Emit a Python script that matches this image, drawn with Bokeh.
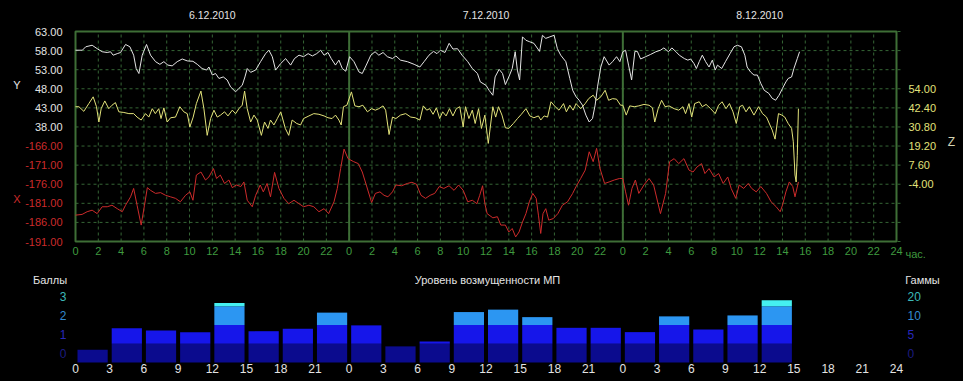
import numpy as np
from bokeh.plotting import figure
from bokeh.models import Range1d, LinearAxis, FixedTicker, PrintfTickFormatter
from bokeh.core.properties import value
from bokeh.embed import file_html
from bokeh.resources import INLINE

# ---------------- data ----------------
day_names = ["6.12.2010", "7.12.2010", "8.12.2010"]
day_centers = [12, 36, 60]
day_bounds = [24, 48]
hour_ticks = list(range(0, 73, 2))
kp_hour_ticks = list(range(0, 73, 3))
y_ticks = [38.0, 43.0, 48.0, 53.0, 58.0, 63.0]
x_ticks = [-191.0, -186.0, -181.0, -176.0, -171.0, -166.0]
z_ticks = [-4.0, 7.6, 19.2, 30.8, 42.4, 54.0]

y_time = [0, 0.6, 0.9, 1.46, 1.9, 2.34, 2.78, 3.07, 3.3, 3.66, 3.95, 4.39, 4.77, 5.1, 5.32, 5.56, 5.85,
          6.23, 6.58, 7.02, 7.4, 7.75, 8.1, 8.48, 8.92, 9.36, 9.8, 10.3, 10.68, 11.1, 11.5, 11.7, 12.0,
          12.28, 12.58, 12.96, 13.3, 13.6, 14.04, 14.33, 14.62, 14.86, 15.06, 15.36, 15.8, 16.23, 16.67,
          16.96, 17.26, 17.55, 17.99, 18.43, 18.87, 19.2, 19.6, 20.0, 20.4, 20.77, 21.15, 21.5, 21.8,
          22.14, 22.43, 22.8, 23.1, 23.4, 23.7,
          24.04, 24.42, 24.86, 25.15, 25.5, 25.9, 26.27, 26.6, 26.97, 27.35, 27.8, 28.1, 28.5, 29.1,
          29.7, 30.2, 30.57, 31.0, 31.4, 31.7, 32.0, 32.4, 32.77, 33.1, 33.5, 33.9, 34.4, 34.8, 35.25,
          35.5, 36.0, 36.27, 36.6, 36.8, 37.15, 37.45, 37.7, 38.0, 38.3, 38.56, 38.75, 38.95, 39.2,
          39.5, 39.84, 40.2, 40.7, 40.95, 41.24, 41.6, 41.97, 42.26, 42.55, 43.0, 43.35, 43.6, 43.9,
          44.17, 44.46, 44.76, 45.05, 45.34, 45.57, 45.78, 46.07, 46.36, 46.8, 47.1, 47.45, 47.74,
          48.0, 48.24, 48.5, 48.77, 49.06, 49.27, 49.56, 50.0, 50.44, 50.9, 51.3, 51.6, 52.0, 52.3,
          52.66, 52.95, 53.4, 53.7, 53.95, 54.24, 54.45, 54.7, 54.97, 55.26, 55.56, 55.85, 56.1, 56.3,
          56.67, 57.0, 57.4, 57.75, 58.04, 58.4, 58.7, 58.9, 59.2, 59.5, 59.8, 60.1, 60.4, 60.8, 61.1,
          61.4, 61.7, 62.0, 62.3, 62.5, 62.8, 63.0, 63.3, 63.5]
y_vals = [58.1, 58.1, 59.0, 59.4, 58.5, 57.7, 57.5, 57.7, 56.8, 57.2, 57.5, 59.6, 59.0, 56.8, 53.3, 52.0, 56.8,
          59.6, 56.8, 55.1, 54.4, 55.1, 54.2, 54.0, 55.1, 55.8, 55.3, 55.2, 54.4, 53.3, 52.9, 53.7, 51.6,
          52.0, 50.7, 51.1, 50.3, 48.5, 47.2, 48.1, 48.9, 51.1, 53.3, 52.3, 52.9, 55.1, 57.2,
          58.1, 56.4, 52.9, 54.6, 55.9, 54.2, 55.9, 56.8, 56.4, 57.2, 56.6, 57.2, 58.1, 56.8,
          57.5, 55.9, 54.2, 55.5, 53.3, 52.6,
          56.4, 55.1, 52.4, 52.0, 54.2, 56.8, 57.7, 56.8, 57.5, 56.4, 55.9, 56.6, 55.5, 55.1,
          54.4, 53.7, 55.1, 56.8, 57.8, 57.2, 58.1, 57.5, 59.9, 58.4, 58.5, 56.8, 55.1, 53.3, 52.0,
          49.8, 48.9, 47.6, 46.3, 51.1, 53.1, 52.0, 49.1, 51.1, 53.3, 57.7, 52.9, 50.3, 61.6,
          60.7, 60.3, 59.9, 57.8, 62.0, 61.2, 61.6, 62.0, 58.5, 56.8, 55.1, 50.7, 47.6, 45.9,
          45.0, 43.7, 41.1, 39.3, 40.2, 43.7, 48.5, 53.7, 56.4, 54.2, 55.1, 56.4, 55.1,
          57.7, 58.1, 54.2, 50.3, 57.8, 57.8, 55.8, 56.4, 57.0, 57.7, 58.1, 58.7, 57.7, 58.7,
          57.7, 56.8, 55.9, 55.5, 55.8, 54.6, 53.3, 55.1, 56.8, 55.1, 53.7, 55.5, 52.9, 54.2,
          53.3, 55.1, 57.2, 59.0, 59.4, 59.0, 56.8, 53.7, 52.4, 51.6, 51.6, 49.4, 47.6, 46.8, 45.5,
          45.0, 46.3, 48.1, 49.8, 50.7, 51.1, 53.3, 55.9, 57.7]

z_time = [0, 0.3, 0.73, 1.17, 1.55, 1.84, 2.05, 2.25, 2.57, 2.92, 3.2, 3.5, 3.8, 4.24, 4.68, 5.1, 5.4,
          5.76, 6.14, 6.43, 6.73, 7.0, 7.3, 7.5, 7.75, 8.04, 8.34, 8.77, 9.15, 9.5, 9.8, 10.03, 10.32,
          10.6, 11.0, 11.26, 11.55, 11.85, 12.14, 12.43, 12.72, 13.07, 13.37, 13.75, 14.04, 14.33,
          14.62, 14.83, 15.06, 15.36, 15.65, 15.94, 16.3, 16.58, 16.88, 17.1, 17.4, 17.7, 18.0, 18.4,
          18.7, 19.0, 19.4, 19.74, 20.0, 20.47, 20.9, 21.35, 21.8, 22.14, 22.5, 22.8, 23.1, 23.3, 23.5,
          23.8,
          24.2, 24.5, 24.86, 25.2, 25.6, 25.97, 26.3, 26.6, 26.97, 27.2, 27.5, 27.8, 28.1, 28.5, 28.96,
          29.4, 29.8, 30.2, 30.5, 30.8, 31.06, 31.36, 31.65, 31.94, 32.2, 32.5, 32.8, 33.1, 33.4, 33.7,
          34.0, 34.2, 34.5, 34.8, 35.05, 35.35, 35.6, 35.9, 36.2, 36.4, 36.6, 36.85, 37.1, 37.4, 37.7,
          38.0, 38.4, 38.76, 39.1, 39.5, 39.85, 40.2, 40.6, 40.8, 41.1, 41.4, 41.7, 42.07, 42.4, 42.8,
          43.05, 43.35, 43.64, 43.9, 44.3, 44.7, 45.0, 45.4, 45.7, 46.07, 46.45, 46.75, 47.1, 47.45,
          47.8,
          48.0, 48.3, 48.6, 49.0, 49.4, 49.85, 50.3, 50.6, 50.8, 51.1, 51.4, 51.7, 52.05, 52.5, 52.9,
          53.27, 53.5, 53.8, 54.04, 54.3, 54.7, 54.97, 55.3, 55.7, 56.1, 56.4, 56.7, 57.05, 57.35,
          57.66, 57.95, 58.25, 58.5, 58.8, 59.1, 59.5, 59.9, 60.25, 60.6, 60.9, 61.1, 61.35, 61.65,
          61.94, 62.2, 62.5, 62.8, 62.95, 63.1, 63.2, 63.3, 63.4]
z_vals = [43.1, 43.1, 40.3, 45.0, 49.1, 43.1, 33.8, 41.9, 46.6, 41.9, 44.0, 45.6, 40.0, 39.6, 38.9, 38.9, 36.8,
          35.0, 38.9, 36.8, 41.9, 38.9, 41.9, 35.9, 42.4, 33.8, 36.4, 36.8, 43.1, 40.0, 38.9, 30.8, 36.8,
          45.0, 52.6, 41.9, 25.7, 35.9, 41.0, 36.8, 38.0, 40.0, 37.5, 41.0, 38.9, 41.9,
          44.0, 52.6, 41.9, 33.8, 38.0, 35.0, 25.7, 33.8, 29.9, 35.0, 32.0, 35.9, 40.0, 29.9,
          25.7, 35.0, 32.9, 32.0, 35.9, 37.5, 38.9, 38.5, 37.5, 36.4, 35.9, 38.0, 35.0, 32.0, 43.1,
          44.0,
          52.1, 43.6, 43.1, 44.0, 40.0, 41.9, 41.0, 41.9, 43.6, 41.0, 26.2, 36.8, 35.9, 38.0, 38.9,
          36.8, 36.4, 35.0, 43.6, 41.0, 41.9, 38.5, 42.4, 35.9, 40.0, 37.5, 41.9, 37.5, 41.9, 43.1,
          30.8, 43.1, 35.9, 41.0, 32.9, 41.9, 29.9, 38.0, 20.8, 32.0, 43.1, 36.8, 43.1, 38.0, 30.3,
          29.9, 32.9, 35.9, 38.5, 41.9, 37.5, 36.4, 37.5, 35.0, 37.5, 36.8, 46.1, 43.1, 41.0, 45.0,
          40.0, 44.0, 41.0, 45.0, 41.9, 45.0, 48.0, 50.1, 47.0, 49.1, 53.1, 47.0, 48.0, 47.7,
          44.0,
          44.0, 38.0, 43.6, 43.1, 43.6, 44.5, 44.0, 42.4, 33.8, 41.9, 47.0, 43.1, 43.6, 41.9, 41.0,
          43.1, 38.9, 45.0, 36.8, 45.0, 46.1, 43.1, 44.5, 41.9, 38.9, 44.0, 46.1, 41.9, 45.0,
          40.0, 32.9, 43.1, 44.0, 40.0, 43.1, 38.0, 43.1, 38.9, 36.8, 32.0, 28.9, 23.4, 38.9,
          38.0, 36.8, 32.9, 29.9, 21.8, 1.6, -2.6, 13.6, 41.9]

x_time = [0, 0.58, 1.02, 1.46, 1.9, 2.34, 2.78, 3.2, 3.66, 4.1, 4.39, 4.83, 5.1, 5.4, 5.76, 6.05, 6.3,
          6.58, 7.02, 7.46, 7.9, 8.33, 8.77, 9.2, 9.65, 10.03, 10.3, 10.6, 11.0, 11.4, 11.7, 12.1,
          12.37, 12.7, 13.07, 13.45, 13.75, 14.1, 14.5, 14.77, 15.06, 15.5, 15.8, 16.2, 16.47, 16.8,
          17.1, 17.46, 17.84, 18.28, 18.7, 19.16, 19.6, 20.0, 20.47, 20.9, 21.35, 21.8, 22.2, 22.67,
          22.96, 23.25, 23.55, 23.9,
          24.4, 24.8, 25.15, 25.5, 25.97, 26.3, 26.7, 27.06, 27.4, 27.8, 28.1, 28.6, 29.1, 29.5, 29.9,
          30.3, 30.7, 31.1, 31.5, 31.9, 32.3, 32.76, 33.2, 33.6, 34.0, 34.4, 34.8, 35.2, 35.45, 35.7,
          35.9, 36.1, 36.6, 37.0, 37.3, 37.7, 38.0, 38.3, 38.6, 38.9, 39.2, 39.5, 39.8, 40.1, 40.4,
          40.6, 40.8, 41.0, 41.24, 41.5, 41.9, 42.3, 42.7, 43.15, 43.6, 43.9, 44.3, 44.7, 45.05, 45.4,
          45.7, 46.0, 46.4, 46.8, 47.25, 47.7, 48.0,
          48.24, 48.5, 48.8, 49.1, 49.4, 49.85, 50.3, 50.7, 51.3, 51.75, 52.1, 52.5, 52.9, 53.36,
          53.8, 54.16, 54.5, 54.9, 55.2, 55.56, 56.0, 56.4, 56.8, 57.2, 57.5, 57.9, 58.2, 58.6, 59.0,
          59.3, 59.7, 60.1, 60.6, 61.0, 61.45, 61.8, 62.0, 62.3, 62.6, 62.9, 63.1, 63.4]
x_vals = [-184.1, -183.9, -183.2, -182.8, -183.7, -181.9, -181.9, -181.5, -182.4, -183.2, -181.5, -179.3,
          -177.1, -181.5, -186.7, -181.5, -176.9, -177.6, -178.4, -178.2, -178.9, -179.3, -179.7,
          -180.6, -178.9, -178.0, -180.2, -173.6, -172.8, -174.9, -174.1, -171.9, -174.5, -173.6,
          -175.8, -174.9, -176.9, -176.2, -176.6, -175.4, -180.2, -181.9, -178.9, -176.2, -178.0,
          -175.8, -179.3, -172.9, -177.1, -179.7, -181.1, -180.2, -181.1, -181.9, -181.5, -181.9,
          -183.2, -182.4, -183.7, -180.6, -177.1, -171.9, -166.8, -169.3,
          -170.1, -170.6, -172.8, -176.2, -180.8, -178.4, -178.0, -178.9, -179.3, -178.0, -176.2,
          -176.4, -175.8, -175.5, -176.0, -178.9, -179.7, -178.9, -178.4, -176.6, -177.1, -176.4,
          -177.6, -176.2, -177.6, -180.6, -180.2, -181.1, -178.9, -176.4, -181.1, -183.7, -184.8,
          -184.5, -186.7, -186.7, -188.5, -187.6, -189.8, -188.5, -185.9, -183.7, -180.6, -178.4,
          -179.7, -184.1, -188.9, -183.7, -182.4, -185.4, -185.0, -183.7, -181.5, -180.6, -178.4,
          -176.6, -174.5, -172.3, -167.5, -170.1, -166.6, -171.9, -175.8, -175.4, -174.9, -174.5,
          -174.5,
          -178.0, -181.5, -177.1, -174.9, -178.4, -176.2, -174.5, -176.2, -183.7, -178.4, -170.1,
          -169.3, -170.6, -169.3, -172.3, -172.8, -171.5, -170.6, -173.2, -171.9, -174.1, -173.2,
          -175.8, -174.1, -177.1, -179.7, -176.2, -177.1, -175.8, -177.1, -178.0, -176.6, -178.4,
          -180.6, -181.9, -183.2, -181.5, -178.0, -175.4, -176.6, -179.3, -175.4]

# disturbance level per 3-hour interval (0..4 bands)
kp_start = list(range(0, 61, 3))
kp_level = [0.68, 1.83, 1.71, 1.62, 3.18, 1.67, 1.80, 2.66,
            1.98, 0.86, 1.12, 2.69, 2.82, 2.42, 1.85, 1.85,
            1.62, 2.46, 1.76, 2.51, 3.32]
band_left_names = ["0", "1", "2", "3"]
band_right_names = ["0", "5", "10", "20"]

# ---------------- style / layout ----------------
FONT = "Liberation Sans"
FRAME = "#3e6e36"
GRID = "#356535"
WHITE = "#e4e4e4"
YELLOW = "#e2e27a"
RED = "#cc2b2b"
GREEN_TXT = "#3f9a3f"
band_colors = ["#0b0b8e", "#1616ea", "#2c96f2", "#45f0f0"]
band_text = ["#1c1c80", "#2828bc", "#3489cf", "#3cb9b9"]

W, H = 963, 381
FX0, FX1 = 75, 896          # chart frame, px
FT, FB = 31, 241            # top chart frame, px
LB, BAND_PX = 362, 18.75    # bottom chart baseline, px per level

S = (FX1 - FX0) / 72.0
ystep = y_ticks[1] - y_ticks[0]
zstep = z_ticks[1] - z_ticks[0]
y_lo, y_hi = y_ticks[0] - 6 * ystep, y_ticks[-1]
ppu = (FB - FT) / (y_hi - y_lo)
x_off = x_ticks[0] - y_lo
z_anchor = y_hi - 3 * ystep


def hx(px):
    return (px - FX0) / S


def yu(py):
    return y_hi - (py - FT) / ppu


def zf(u):
    return z_ticks[-1] + (u - z_anchor) * zstep / ystep


def lvy(py):
    return (LB - py) / BAND_PX


p = figure(x_range=Range1d(hx(0), hx(W)), y_range=Range1d(yu(H), yu(0)),
           frame_width=W, frame_height=H,
           min_border_left=0, min_border_right=0, min_border_top=0, min_border_bottom=0,
           x_axis_location=None, y_axis_location=None, title=None,
           output_backend="svg", toolbar_location=None,
           background_fill_color="black", border_fill_color="black", outline_line_color=None)
p.grid.visible = False
p.extra_y_ranges = {"xr": Range1d(yu(H) + x_off, yu(0) + x_off),
                    "zr": Range1d(zf(yu(H)), zf(yu(0))),
                    "lv": Range1d(lvy(H), lvy(0))}


def style_axis(ax, color, size="11px", standoff=10):
    ax.major_tick_line_color = None
    ax.minor_tick_line_color = None
    ax.major_tick_in = 0
    ax.major_tick_out = 0
    ax.minor_tick_in = 0
    ax.minor_tick_out = 0
    ax.axis_line_color = None
    ax.major_label_text_color = color
    ax.major_label_text_font = FONT
    ax.major_label_text_font_size = size
    ax.major_label_standoff = standoff


# ---- top chart: grid, frame ----
grid_levels = [float(v) for v in np.arange(y_lo, y_hi + 0.1, ystep)]
inner_hours = [t for t in hour_ticks if 0 < t < 72]
p.segment(x0=inner_hours, y0=[y_lo] * len(inner_hours), x1=inner_hours, y1=[y_hi] * len(inner_hours),
          line_color=GRID, line_dash="3 3", line_width=1)
p.segment(x0=[0] * len(grid_levels), y0=grid_levels, x1=[hx(FX1 + 4)] * len(grid_levels), y1=grid_levels,
          line_color=GRID, line_dash="3 3", line_width=1)
p.segment(x0=day_bounds, y0=[y_lo] * 2, x1=day_bounds, y1=[y_hi] * 2, line_color=FRAME, line_width=2)
p.quad(left=[0], right=[72], bottom=[y_lo], top=[y_hi], fill_color=None, line_color=FRAME, line_width=2)

# ---- top chart: series ----
p.line(x_time, x_vals, y_range_name="xr", line_color=RED, line_width=1)
p.line(z_time, z_vals, y_range_name="zr", line_color=YELLOW, line_width=1)
p.line(y_time, y_vals, line_color=WHITE, line_width=1)

# ---- top chart: axes ----
ax_h = LinearAxis(ticker=FixedTicker(ticks=hour_ticks), fixed_location=y_lo,
                  major_label_overrides={t: (str(t % 24) if t < 72 else "24") for t in hour_ticks})
style_axis(ax_h, GREEN_TXT, "11px", 5)
p.add_layout(ax_h, "below")

ax_d = LinearAxis(ticker=FixedTicker(ticks=day_centers), fixed_location=y_hi,
                  major_label_overrides={c: n for c, n in zip(day_centers, day_names)})
style_axis(ax_d, WHITE, "10.5px", 13)
p.add_layout(ax_d, "above")

ax_y = LinearAxis(ticker=FixedTicker(ticks=y_ticks), fixed_location=0,
                  formatter=PrintfTickFormatter(format="%.2f"))
style_axis(ax_y, WHITE, "11px", 13)
p.add_layout(ax_y, "left")

ax_x = LinearAxis(y_range_name="xr", ticker=FixedTicker(ticks=x_ticks), fixed_location=0,
                  formatter=PrintfTickFormatter(format="%.2f"))
style_axis(ax_x, RED, "11px", 13)
p.add_layout(ax_x, "left")

ax_z = LinearAxis(y_range_name="zr", ticker=FixedTicker(ticks=z_ticks), fixed_location=72,
                  formatter=PrintfTickFormatter(format="%.2f"))
style_axis(ax_z, YELLOW, "11px", 12)
p.add_layout(ax_z, "right")

txt_kw = dict(text_baseline="middle", text_font=value(FONT))
p.text(x=[hx(16.5)], y=[yu(84)], text=["Y"], text_color=WHITE, text_align="center",
       text_font_size="11px", **txt_kw)
p.text(x=[hx(16.5)], y=[yu(198)], text=["X"], text_color=RED, text_align="center",
       text_font_size="11px", **txt_kw)
p.text(x=[hx(951)], y=[yu(141)], text=["Z"], text_color="#d4d4b4", text_align="center",
       text_font_size="12px", **txt_kw)
p.text(x=[hx(905)], y=[yu(253)], text=["час."], text_color=GREEN_TXT, text_align="left",
       text_font_size="11px", **txt_kw)

# ---- bottom chart: stacked level bars ----
centers = np.array(kp_start, dtype=float) + 1.5
lv = np.array(kp_level)
for k, col in enumerate(band_colors):
    m = lv > k
    p.vbar(x=centers[m], width=2.65, bottom=k, top=np.clip(lv[m], k, k + 1),
           y_range_name="lv", fill_color=col, line_color=None)

ax_b = LinearAxis(y_range_name="lv", ticker=FixedTicker(ticks=kp_hour_ticks), fixed_location=0,
                  major_label_overrides={t: (str(t % 24) if t < 72 else "24") for t in kp_hour_ticks})
style_axis(ax_b, WHITE, "12px", 1)
p.add_layout(ax_b, "below")

for k in range(4):
    la = LinearAxis(y_range_name="lv", ticker=FixedTicker(ticks=[k + 0.5]), fixed_location=0,
                    major_label_overrides={k + 0.5: band_left_names[k]})
    style_axis(la, band_text[k], "12px", 9)
    p.add_layout(la, "left")
    ra = LinearAxis(y_range_name="lv", ticker=FixedTicker(ticks=[k + 0.5]), fixed_location=72,
                    major_label_overrides={k + 0.5: band_right_names[k]})
    style_axis(ra, band_text[k], "12px", 11)
    p.add_layout(ra, "right")

ty = lvy(279.5)
p.text(x=[hx(49.5), hx(487), hx(922)], y=[ty] * 3,
       text=["Баллы", "Уровень возмущенности МП", "Гаммы"], y_range_name="lv",
       text_color=WHITE, text_align="center", text_font_size="11px", **txt_kw)

html = file_html(p, INLINE)
html = html.replace("</head>", "<style>html,body{background:#000000;}</style></head>", 1)
open("out.html", "w").write(html)
